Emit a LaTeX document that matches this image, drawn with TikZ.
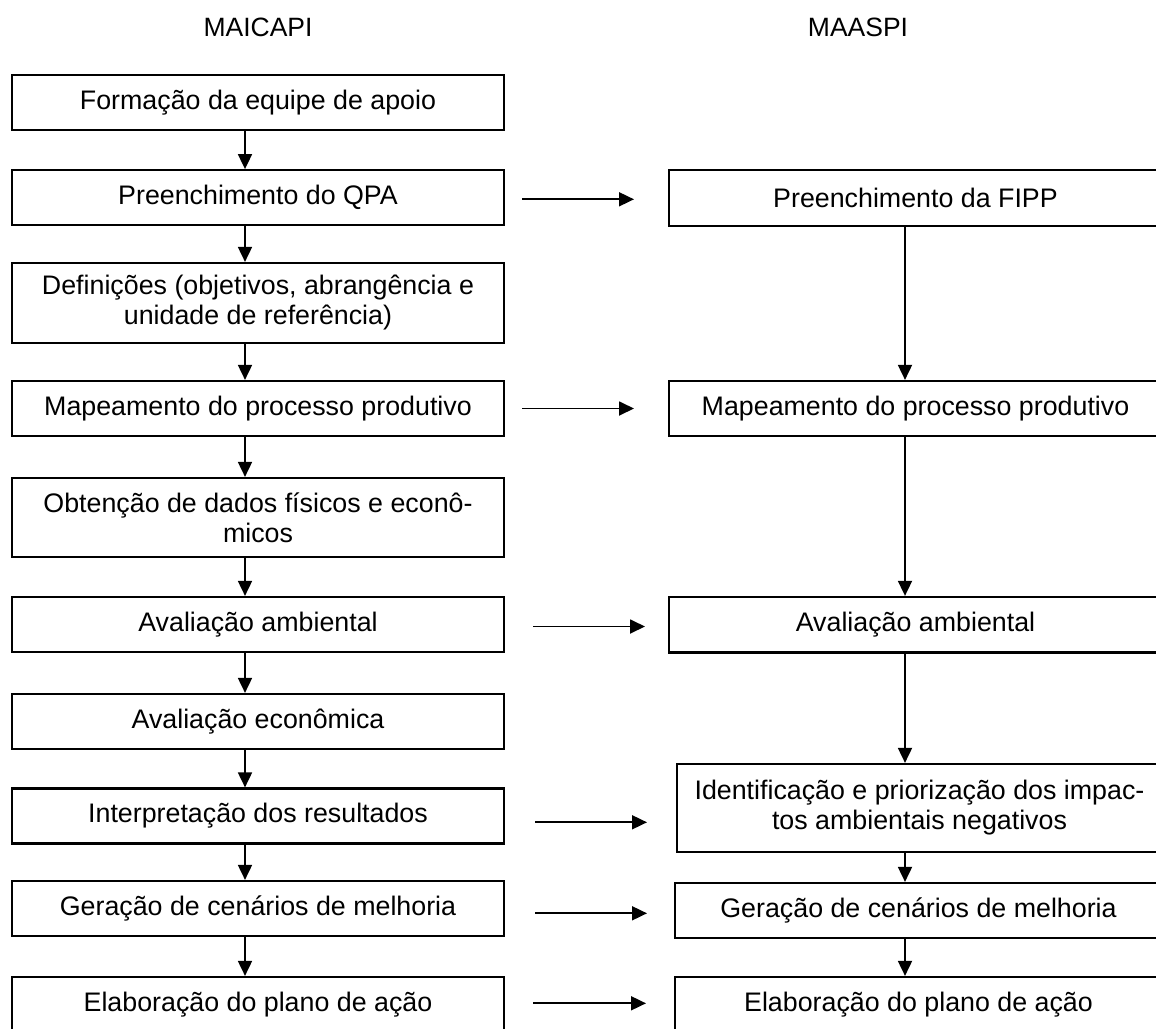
\documentclass[tikz,border=0pt]{standalone}
\usepackage{fontspec}
\setmainfont{Liberation Sans}
\usetikzlibrary{arrows.meta}
\begin{document}
\begin{tikzpicture}[x=1pt,y=-1pt,
  box/.style={draw, line width=2.2pt, rectangle, inner sep=0pt, align=center,
    font=\fontsize{26.8}{30}\selectfont},
  lbox/.style={box, minimum width=492pt},
  arr/.style={line width=1.8pt, -{Triangle[length=15pt,width=14pt]}},
  heading/.style={font=\fontsize{26.5}{30}\selectfont, anchor=base, inner sep=0pt}]
\useasboundingbox (0,0) rectangle (1156,1028);

% column headings
\node[heading] (hl) at (258,36) {MAICAPI};
\node[heading] (hr) at (858,36) {MAASPI};

% MAICAPI steps
\node[lbox, minimum height=55pt] (l1) at (258,102.5) {Formação da equipe de apoio};
\node[lbox, minimum height=55pt] (l2) at (258,197.7) {Preenchimento do QPA};
\node[lbox, minimum height=80pt] (l3) at (258,303) {Definições (objetivos, abrangência e\\unidade de referência)};
\node[lbox, minimum height=55pt] (l4) at (258,408.5) {Mapeamento do processo produtivo};
\node[lbox, minimum height=79pt] (l5) at (258,517.5) {Obtenção de dados físicos e econô-\\micos};
\node[lbox, minimum height=55pt] (l6) at (258,624.5) {Avaliação ambiental};
\node[lbox, minimum height=55pt] (l7) at (258,721.5) {Avaliação econômica};
\node[lbox, minimum height=55pt] (l8) at (258,816) {Interpretação dos resultados};
\node[lbox, minimum height=55pt] (l9) at (258,908.5) {Geração de cenários de melhoria};
\node[lbox, minimum height=55pt] (l10) at (258,1004.5) {Elaboração do plano de ação};

% MAASPI steps
\node[box, minimum width=493pt, minimum height=56pt] (r1) at (915.5,198) {Preenchimento da FIPP};
\node[box, minimum width=493pt, minimum height=55pt] (r2) at (915.5,408.5) {Mapeamento do processo produtivo};
\node[box, minimum width=493pt, minimum height=55.5pt] (r3) at (915.5,624.7) {Avaliação ambiental};
\node[box, minimum width=485pt, minimum height=88pt] (r4) at (919.5,808) {Identificação e priorização dos impac-\\tos ambientais negativos};
\node[box, minimum width=487pt, minimum height=55pt] (r5) at (918.5,910.5) {Geração de cenários de melhoria};
\node[box, minimum width=487pt, minimum height=55pt] (r6) at (918.5,1004.5) {Elaboração do plano de ação};

% vertical connector lines
\coordinate (lx) at (245,0);
\coordinate (rx) at (905,0);
\foreach \a/\b in {l1/l2,l2/l3,l3/l4,l4/l5,l5/l6,l6/l7,l7/l8,l8/l9,l9/l10}
  \draw[arr] (\a.south -| lx) -- (\b.north -| lx);
\foreach \a/\b in {r1/r2,r2/r3,r3/r4,r4/r5,r5/r6}
  \draw[arr] (\a.south -| rx) -- (\b.north -| rx);

% links between the two methods
\coordinate (h1s) at (522,199.3);   \coordinate (h1e) at (634,199.3);
\coordinate (h2s) at (522,408.5);   \coordinate (h2e) at (634,408.5);
\coordinate (h3s) at (533,626.5);   \coordinate (h3e) at (645,626.5);
\coordinate (h4s) at (535,822.3);   \coordinate (h4e) at (647,822.3);
\coordinate (h5s) at (535,913.3);   \coordinate (h5e) at (647,913.3);
\coordinate (h6s) at (533,1003.3);  \coordinate (h6e) at (646,1003.3);
\foreach \i in {1,...,6}
  \draw[arr] (h\i s) -- (h\i e);
\end{tikzpicture}
\end{document}
